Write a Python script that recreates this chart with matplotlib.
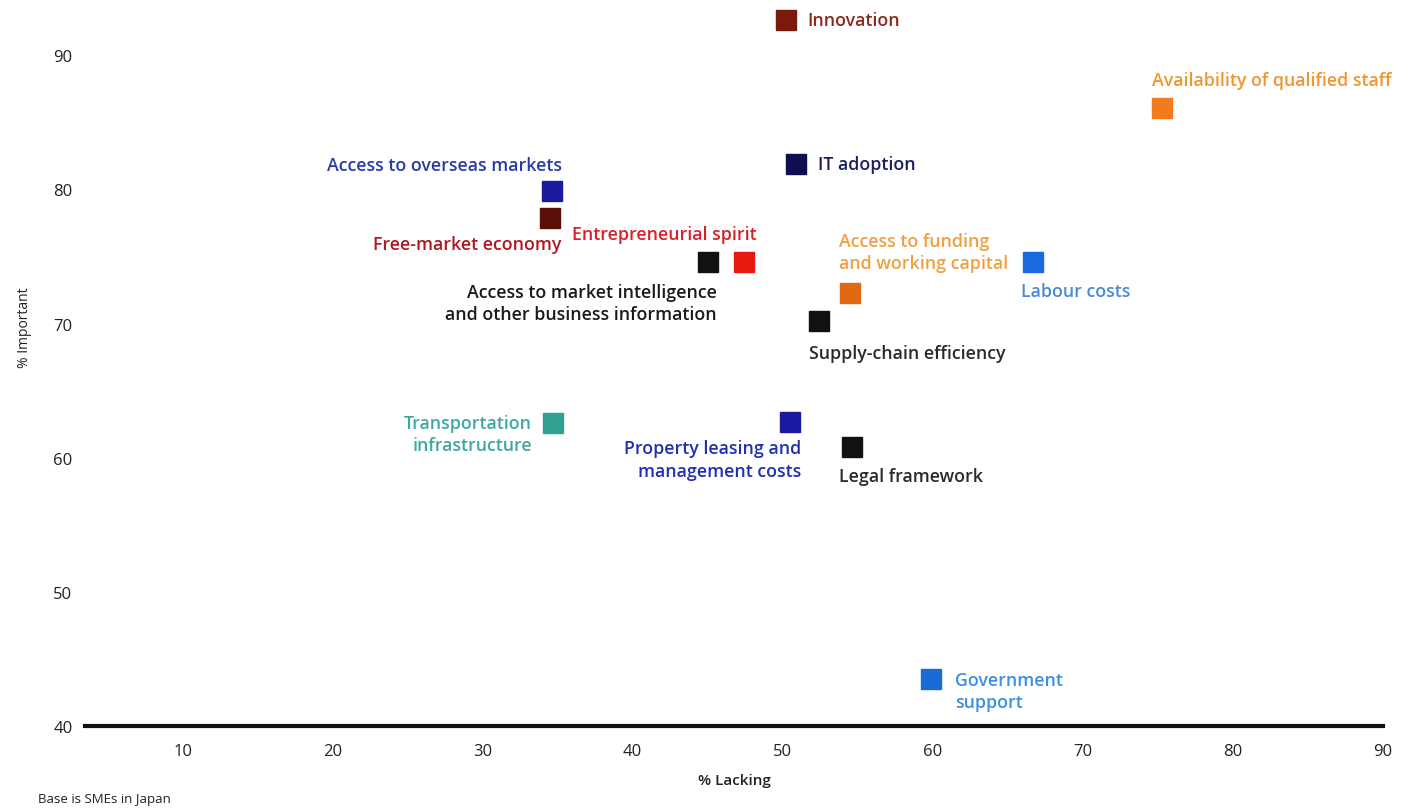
import matplotlib
matplotlib.use("Agg")
import matplotlib.pyplot as plt

# Survey results: share of SMEs rating each factor as important vs. lacking
factors = [
    "Innovation",
    "Availability of qualified staff",
    "IT adoption",
    "Access to overseas markets",
    "Free-market economy",
    "Entrepreneurial spirit",
    "Access to market intelligence\nand other business information",
    "Access to funding\nand working capital",
    "Labour costs",
    "Supply-chain efficiency",
    "Transportation\ninfrastructure",
    "Property leasing and\nmanagement costs",
    "Legal framework",
    "Government\nsupport",
]
pct_lacking = [50.2, 75.3, 50.9, 34.6, 34.5, 47.4, 45.0, 54.5, 66.7, 52.4, 34.7, 50.5, 54.6, 59.9]
pct_important = [92.6, 86.1, 81.9, 79.9, 77.9, 74.6, 74.6, 72.3, 74.6, 70.2, 62.6, 62.7, 60.8, 43.5]

x_ticks = [10, 20, 30, 40, 50, 60, 70, 80, 90]
y_ticks = [40, 50, 60, 70, 80, 90]

marker_colors = ["#7b1a0c", "#f47a20", "#0d0f50", "#1a1aa0", "#5a0e0a", "#e81a10", "#111111",
                 "#e06a10", "#1a6ae0", "#111111", "#30a090", "#1a1aa0", "#111111", "#1a6ad8"]
text_colors = ["#8a2a1a", "#f0962e", "#1a1e60", "#2a3aa8", "#b01820", "#d8202a", "#1a1a1a",
               "#f0a040", "#4a8ad8", "#2a2a2a", "#40a8a0", "#2030b0", "#2a2a2a", "#3a90e0"]
# label offsets from each marker (pixels) and alignment
label_offsets = [(22, 0), (-10, 28), (22, 0), (10, 26), (11, -26), (13, 28), (9, -41),
                 (-11, 41), (-12, -29), (-10, -32), (-21, -11), (11, -38), (-13, -29), (24, -12)]
label_ha = ["left", "left", "left", "right", "right", "right", "right",
            "left", "left", "left", "right", "right", "left", "left"]

plt.rcParams["font.family"] = ["Open Sans", "DejaVu Sans"]

fig = plt.figure(figsize=(14.11, 8.12), dpi=100)
ax = fig.add_axes([85 / 1411, 85 / 812, 1298 / 1411, 727 / 812])
ax.set_xlim(3.5, 90)
ax.set_ylim(40, 94.2)

for x, y, mc in zip(pct_lacking, pct_important, marker_colors):
    ax.plot(x, y, marker="s", ms=14, color=mc, mec=mc, ls="none", clip_on=False, zorder=3)

for name, x, y, tc, off, ha in zip(factors, pct_lacking, pct_important, text_colors,
                                   label_offsets, label_ha):
    ax.annotate(name, (x, y), xytext=off, textcoords="offset pixels", ha=ha, va="center",
                fontsize=12.8, fontweight="semibold", color=tc, multialignment=ha,
                linespacing=1.3, annotation_clip=False)

for s in ["top", "right", "left"]:
    ax.spines[s].set_visible(False)
ax.spines["bottom"].set_linewidth(3)
ax.spines["bottom"].set_color("#111111")

ax.set_xticks(x_ticks)
ax.set_yticks(y_ticks)
ax.tick_params(axis="both", length=0, labelsize=12, colors="#222222")
for lbl in ax.get_xticklabels() + ax.get_yticklabels():
    lbl.set_fontweight("medium")
ax.tick_params(axis="x", pad=12)
ax.tick_params(axis="y", pad=9)

ax.set_xlabel("% Lacking", fontsize=11, fontweight="semibold", color="#222222", labelpad=10)
ax.set_ylabel("% Important", fontsize=10, fontweight="medium", color="#222222")
ax.yaxis.set_label_coords(-0.041, 0.549)

fig.text(38 / 1411, 1 - 800 / 812, "Base is SMEs in Japan", fontsize=9.5, fontweight="medium",
         color="#222222", ha="left", va="center")

fig.savefig("out.png", dpi=100, facecolor="white")
